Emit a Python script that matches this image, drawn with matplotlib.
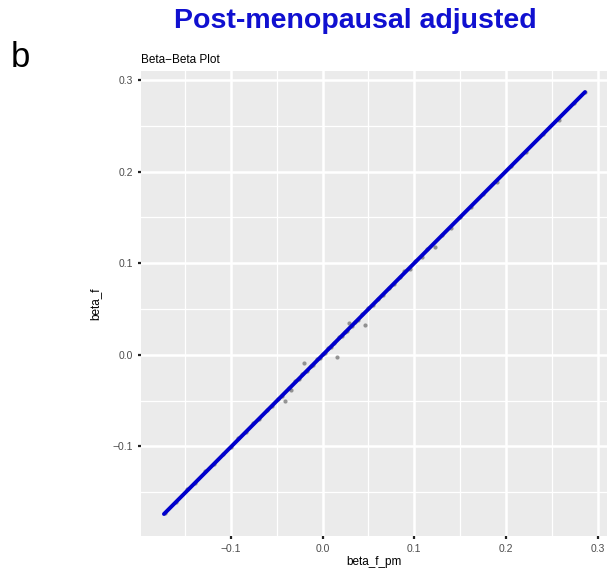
"""Beta-beta comparison plot, post-menopausal adjusted (panel b)."""
import matplotlib
matplotlib.use("Agg")
import matplotlib.pyplot as plt
from matplotlib.ticker import MultipleLocator

# points: beta_f_pm (x) vs beta_f (y)
beta_f_pm = [-0.172, -0.160, -0.148, -0.139, -0.128, -0.118, -0.109, -0.100,
             -0.092, -0.083, -0.076, -0.069, -0.061, -0.055, -0.049, -0.044,
             -0.041, -0.037, -0.034, -0.030, -0.026, -0.022, -0.020, -0.017,
             -0.013, -0.010, -0.006, -0.003, 0.000, 0.003, 0.006, 0.009,
             0.012, 0.016, 0.018, 0.021, 0.024, 0.027, 0.029, 0.032, 0.035,
             0.039, 0.043, 0.046, 0.050, 0.055, 0.060, 0.066, 0.072, 0.078,
             0.084, 0.089, 0.095, 0.101, 0.108, 0.114, 0.122, 0.130, 0.140,
             0.150, 0.162, 0.175, 0.190, 0.205, 0.222, 0.240, 0.258, 0.274,
             0.286]
beta_f = [-0.173, -0.161, -0.147, -0.140, -0.127, -0.119, -0.108, -0.101,
          -0.091, -0.084, -0.075, -0.070, -0.060, -0.056, -0.048, -0.045,
          -0.050, -0.036, -0.038, -0.029, -0.027, -0.021, -0.009, -0.018,
          -0.012, -0.011, -0.005, -0.004, 0.001, 0.002, 0.007, 0.008,
          0.013, -0.002, 0.019, 0.020, 0.025, 0.026, 0.035, 0.031, 0.036,
          0.038, 0.044, 0.032, 0.051, 0.054, 0.061, 0.065, 0.073, 0.077,
          0.085, 0.091, 0.094, 0.102, 0.107, 0.115, 0.118, 0.131, 0.139,
          0.151, 0.161, 0.176, 0.189, 0.206, 0.221, 0.241, 0.257, 0.275,
          0.287]

# identity line end points
line_x = [-0.173, 0.286]
line_y = [-0.174, 0.287]

ticks = [-0.1, 0.0, 0.1, 0.2, 0.3]
tick_labels = ["\u22120.1", "0.0", "0.1", "0.2", "0.3"]


def main():
    fig = plt.figure(figsize=(6.09, 5.69), dpi=100)
    ax = fig.add_axes([141 / 609, 1 - 536 / 569, 466 / 609, 465 / 569])

    ax.set_facecolor("#EBEBEB")
    for s in ax.spines.values():
        s.set_visible(False)

    ax.scatter(beta_f_pm, beta_f, s=9, color="#555555", alpha=0.6,
               linewidths=0, zorder=3)
    ax.plot(line_x, line_y, color="#0000CC", lw=2.8, solid_capstyle="round",
            zorder=4)

    ax.set_xlim(-0.198, 0.31)
    ax.set_ylim(-0.198, 0.31)
    ax.set_xticks(ticks)
    ax.set_xticklabels(tick_labels)
    ax.set_yticks(ticks)
    ax.set_yticklabels(tick_labels)
    ax.xaxis.set_minor_locator(MultipleLocator(0.05))
    ax.yaxis.set_minor_locator(MultipleLocator(0.05))

    ax.grid(which="major", color="white", lw=1.8, zorder=0)
    ax.grid(which="minor", color="white", lw=0.9, zorder=0)
    ax.set_axisbelow(True)

    ax.tick_params(which="major", length=2.5, width=1.6, color="#222222",
                   labelsize=7.5, labelcolor="#4D4D4D", pad=3)
    ax.tick_params(which="minor", length=0)

    ax.set_xlabel("beta_f_pm", fontsize=8.5, labelpad=2, family="Liberation Sans")
    ax.set_ylabel("beta_f", fontsize=8.5, labelpad=8, family="Liberation Sans")
    for lab in ax.get_xticklabels() + ax.get_yticklabels():
        lab.set_family("Liberation Sans")

    fig.text(141 / 609, 1 - 60 / 569, "Beta\u2212Beta Plot", fontsize=8.5,
             family="Liberation Sans", va="center", ha="left")
    fig.text(355 / 609, 1 - 28 / 569, "Post-menopausal adjusted",
             fontsize=20.5, fontweight="bold", color="#1010D0",
             family="Liberation Sans", ha="center", va="baseline")
    fig.text(11 / 609, 1 - 67 / 569, "b", fontsize=25,
             family=["Liberation Sans Narrow", "Liberation Sans"],
             ha="left", va="baseline")

    fig.savefig("out.png", dpi=100)


if __name__ == "__main__":
    main()
